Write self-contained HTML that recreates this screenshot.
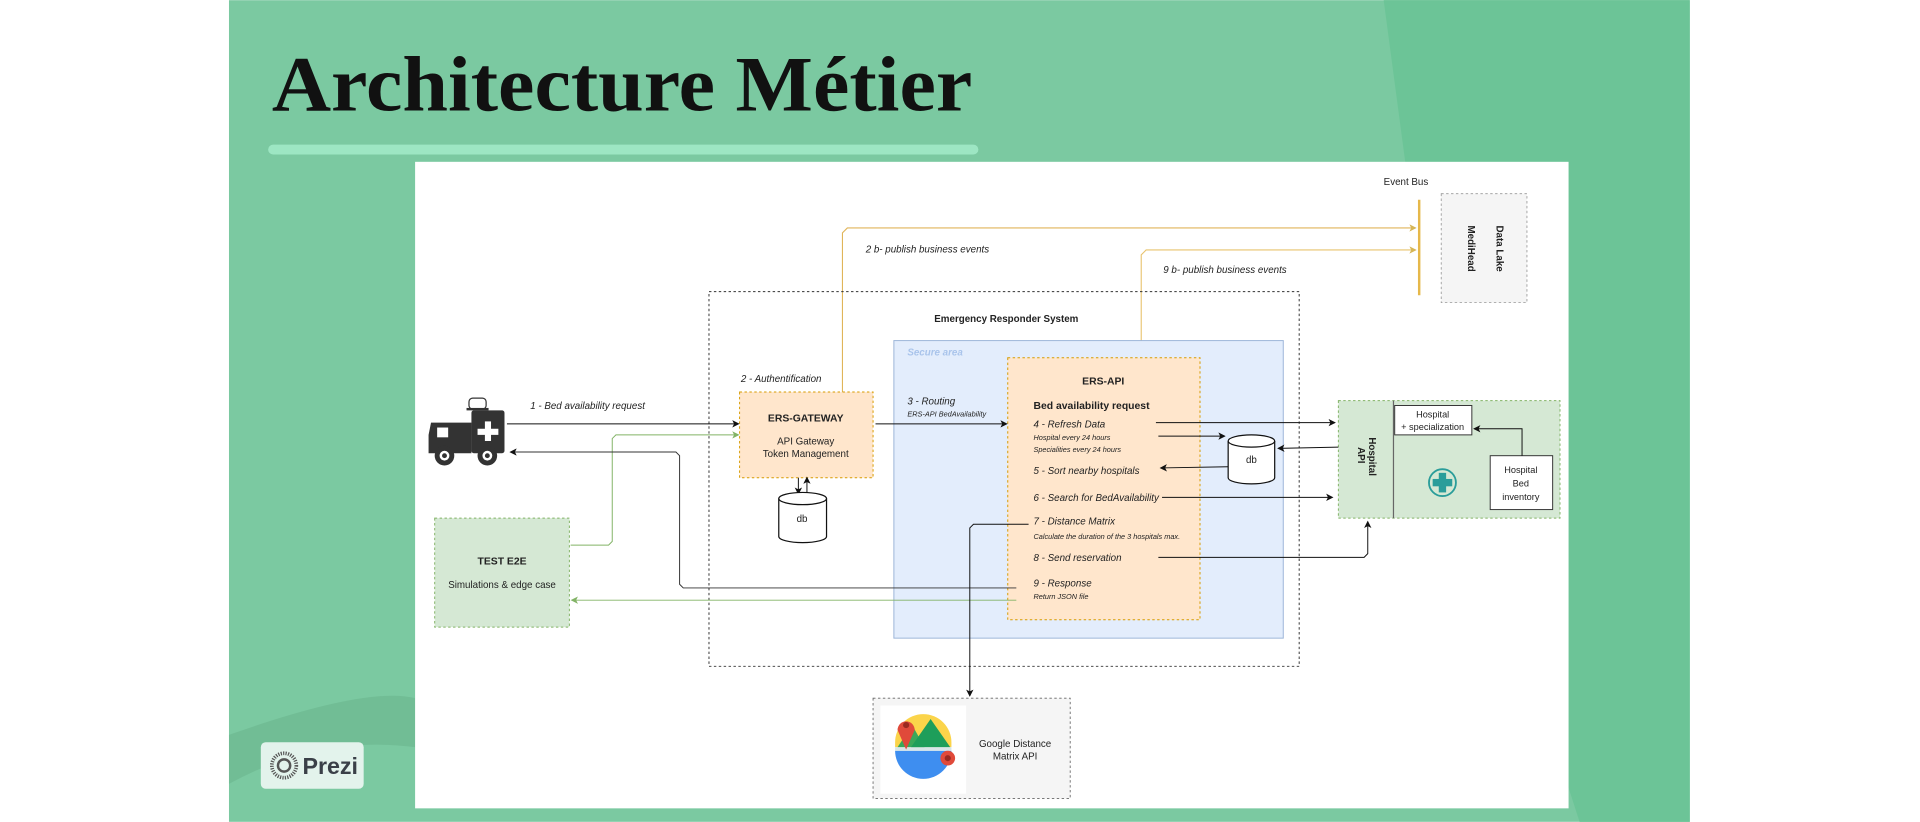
<!DOCTYPE html>
<html><head><meta charset="utf-8"><style>
html,body{margin:0;padding:0;background:#fff;width:1920px;height:822px;overflow:hidden}
svg{display:block}
text{font-family:"Liberation Sans",sans-serif;fill:#222}
.it{font-style:italic}
</style></head><body>
<svg width="1920" height="822" viewBox="0 0 1568 671" xmlns="http://www.w3.org/2000/svg">
<defs>
<marker id="a" markerWidth="6" markerHeight="6" refX="5" refY="3" orient="auto" markerUnits="userSpaceOnUse"><path d="M0,0 L6,3 L0,6 L1.5,3Z" fill="#111"/></marker>
<marker id="ay" markerWidth="6" markerHeight="6" refX="5" refY="3" orient="auto" markerUnits="userSpaceOnUse"><path d="M0,0 L6,3 L0,6 L1.5,3Z" fill="#d6b656"/></marker>
<marker id="ag" markerWidth="6" markerHeight="6" refX="5" refY="3" orient="auto" markerUnits="userSpaceOnUse"><path d="M0,0 L6,3 L0,6 L1.5,3Z" fill="#82b366"/></marker>
</defs>
<rect x="0" y="0" width="1568" height="671" fill="#fff"/>
<rect x="187" y="0" width="1193" height="671" fill="#7bc9a1"/>
<polygon points="1130,0 1380,0 1380,671 1290,671 1170,300" fill="#6cc497"/>
<path d="M187,600 Q300,560 339,570 L339,610 Q260,600 187,640Z" fill="#6ab58e" opacity="0.6"/>
<text x="222" y="90" style="font-family:'Liberation Serif',serif;font-weight:bold;font-size:64px;fill:#111" textLength="572" lengthAdjust="spacingAndGlyphs">Architecture Métier</text>
<rect x="219" y="118" width="580" height="8" rx="4" fill="#9de6c3"/>
<rect x="339" y="132" width="942" height="528" fill="#fff"/>

<!-- event bus -->
<text x="1130" y="151" font-size="8">Event Bus</text>
<line x1="1159" y1="163" x2="1159" y2="241" stroke="#e6b84a" stroke-width="2"/>
<rect x="1177" y="158" width="70" height="89" fill="#f5f5f5" stroke="#999" stroke-dasharray="2,2" stroke-width="0.7"/>
<text transform="translate(1222,184) rotate(90)" font-size="8" font-weight="bold">Data Lake</text>
<text transform="translate(1199,184) rotate(90)" font-size="8" font-weight="bold">MediHead</text>
<polyline points="688,320 688,190 692,186 1156,186" fill="none" stroke="#e0b55a" stroke-width="0.9" marker-end="url(#ay)"/>
<text x="707" y="206" font-size="8" class="it">2 b- publish business events</text>
<polyline points="932,292 932,208 936,204 1156,204" fill="none" stroke="#e8c36e" stroke-width="0.9" marker-end="url(#ay)"/>
<text x="950" y="223" font-size="8" class="it">9 b- publish business events</text>

<!-- ERS -->
<rect x="579" y="238" width="482" height="306" fill="none" stroke="#333" stroke-dasharray="2,2" stroke-width="0.8"/>
<text x="763" y="263" font-size="8" font-weight="bold">Emergency Responder System</text>
<rect x="730" y="278" width="318" height="243" fill="#e3edfc" stroke="#9bb4d8" stroke-width="0.8"/>
<text x="741" y="290" font-size="8" font-weight="bold" class="it" style="fill:#a9c4eb">Secure area</text>
<rect x="823" y="292" width="157" height="214" fill="#ffe6cc" stroke="#d79b00" stroke-dasharray="2,2" stroke-width="0.8"/>
<text x="901" y="314" font-size="8.5" text-anchor="middle" font-weight="bold">ERS-API</text>
<text x="844" y="334" font-size="8.5" font-weight="bold">Bed availability request</text>
<text x="844" y="349" font-size="8" class="it">4 - Refresh Data</text>
<text x="844" y="359" font-size="6" class="it">Hospital every 24 hours</text>
<text x="844" y="369" font-size="6" class="it">Specialities every 24 hours</text>
<text x="844" y="387" font-size="8" class="it">5 - Sort nearby hospitals</text>
<text x="844" y="409" font-size="8" class="it">6 - Search for BedAvailability</text>
<text x="844" y="428" font-size="8" class="it">7 - Distance Matrix</text>
<text x="844" y="440" font-size="6" class="it">Calculate the duration of the 3 hospitals max.</text>
<text x="844" y="458" font-size="8" class="it">8 - Send reservation</text>
<text x="844" y="479" font-size="8" class="it">9 - Response</text>
<text x="844" y="489" font-size="6" class="it">Return JSON file</text>

<!-- gateway -->
<rect x="604" y="320" width="109" height="70" fill="#ffe6cc" stroke="#d79b00" stroke-dasharray="2,2" stroke-width="0.8"/>
<text x="658" y="344" font-size="8.5" text-anchor="middle" font-weight="bold">ERS-GATEWAY</text>
<text x="658" y="363" font-size="8" text-anchor="middle">API Gateway</text>
<text x="658" y="373" font-size="8" text-anchor="middle">Token Management</text>
<text x="605" y="312" font-size="8" class="it">2 - Authentification</text>
<line x1="652" y1="390" x2="652" y2="403" stroke="#111" stroke-width="0.8" marker-end="url(#a)"/>
<line x1="659" y1="403" x2="659" y2="390" stroke="#111" stroke-width="0.8" marker-end="url(#a)"/>
<g fill="#fff" stroke="#111" stroke-width="1">
<path d="M636,407 L636,438 A19.5,5 0 0 0 675,438 L675,407"/>
<ellipse cx="655.5" cy="407" rx="19.5" ry="5"/>
<path d="M1003,360 L1003,390 A19,5 0 0 0 1041,390 L1041,360"/>
<ellipse cx="1022" cy="360" rx="19" ry="5"/>
</g>
<text x="655" y="426" font-size="8" text-anchor="middle">db</text>
<text x="1022" y="378" font-size="8" text-anchor="middle">db</text>

<!-- ambulance -->
<g fill="#333">
<rect x="385" y="335" width="27" height="35" rx="2"/>
<path d="M352,345 L385,345 L385,370 L350,370 L350,355Z"/>
<rect x="357" y="349" width="9" height="8" fill="#fff"/>
<rect x="396" y="344" width="5" height="16" fill="#fff"/><rect x="390" y="350" width="17" height="5" fill="#fff"/>
<circle cx="363" cy="372" r="8"/><circle cx="363" cy="372" r="4" fill="#fff"/><circle cx="363" cy="372" r="2"/>
<circle cx="398" cy="372" r="8"/><circle cx="398" cy="372" r="4" fill="#fff"/><circle cx="398" cy="372" r="2"/>
<rect x="383" y="325" width="14" height="9" rx="3" fill="#fff" stroke="#333"/>
<rect x="381" y="333" width="18" height="2"/>
</g>
<text x="433" y="334" font-size="8" class="it">1 - Bed availability request</text>
<line x1="414" y1="346" x2="603" y2="346" stroke="#111" stroke-width="0.8" marker-end="url(#a)"/>
<polyline points="466,445 497,445 500,442 500,358 503,355 603,355" fill="none" stroke="#82b366" stroke-width="0.8" marker-end="url(#ag)"/>
<polyline points="830,480 558,480 555,477 555,372 552,369 417,369" fill="none" stroke="#333" stroke-width="0.8" marker-end="url(#a)"/>
<line x1="830" y1="490" x2="467" y2="490" stroke="#82b366" stroke-width="0.8" marker-end="url(#ag)"/>
<rect x="355" y="423" width="110" height="89" fill="#d5e8d4" stroke="#82b366" stroke-dasharray="2,2" stroke-width="0.8"/>
<text x="410" y="461" font-size="8.5" text-anchor="middle" font-weight="bold">TEST E2E</text>
<text x="410" y="480" font-size="8" text-anchor="middle">Simulations &amp; edge case</text>
<text x="741" y="330" font-size="8" class="it">3 - Routing</text>
<text x="741" y="340" font-size="6" class="it">ERS-API BedAvailability</text>
<line x1="715" y1="346" x2="822" y2="346" stroke="#111" stroke-width="0.8" marker-end="url(#a)"/>

<!-- hospital api -->
<rect x="1093" y="327" width="181" height="96" fill="#d5e8d4" stroke="#82b366" stroke-dasharray="2,2" stroke-width="0.8"/>
<line x1="1138" y1="327" x2="1138" y2="423" stroke="#666" stroke-width="1"/>
<text transform="translate(1118,357) rotate(90)" font-size="8" font-weight="bold">Hospital</text>
<text transform="translate(1109,365) rotate(90)" font-size="8" font-weight="bold">API</text>
<rect x="1139" y="331" width="63" height="24" fill="#fff" stroke="#333" stroke-width="0.8"/>
<text x="1170" y="341" font-size="7.5" text-anchor="middle">Hospital</text>
<text x="1170" y="351" font-size="7.5" text-anchor="middle">+ specialization</text>
<rect x="1217" y="372" width="51" height="44" fill="#fff" stroke="#333" stroke-width="0.8"/>
<text x="1242" y="386" font-size="7.5" text-anchor="middle">Hospital</text>
<text x="1242" y="397" font-size="7.5" text-anchor="middle">Bed</text>
<text x="1242" y="408" font-size="7.5" text-anchor="middle">inventory</text>
<polyline points="1243,372 1243,350 1204,350" fill="none" stroke="#111" stroke-width="0.8" marker-end="url(#a)"/>
<circle cx="1178" cy="394" r="11" fill="none" stroke="#2a9d9a" stroke-width="1.5"/>
<rect x="1175" y="386" width="6" height="16" fill="#2a9d9a"/><rect x="1170" y="391" width="16" height="6" fill="#2a9d9a"/>

<g stroke="#111" stroke-width="0.8" fill="none">
<line x1="944" y1="345" x2="1090" y2="345" marker-end="url(#a)"/>
<line x1="946" y1="356" x2="1000" y2="356" marker-end="url(#a)"/>
<line x1="1093" y1="365" x2="1044" y2="366" marker-end="url(#a)"/>
<line x1="1003" y1="381" x2="948" y2="382" marker-end="url(#a)"/>
<line x1="949" y1="406" x2="1088" y2="406" marker-end="url(#a)"/>
<polyline points="946,455 1114,455 1117,452 1117,426" marker-end="url(#a)"/>
<polyline points="840,428 795,428 792,431 792,568" marker-end="url(#a)"/>
</g>

<!-- google -->
<rect x="713" y="570" width="161" height="82" fill="#f5f5f5" stroke="#666" stroke-dasharray="2,2" stroke-width="0.7"/>
<rect x="719" y="576" width="70" height="72" fill="#fff"/>
<path d="M731,606 A23,23 0 0 1 777,606 L777,610 L731,610Z" fill="#fbd44a"/>
<path d="M731,613 L777,613 A23,23 0 0 1 731,613Z" fill="#3e8ef0"/>
<rect x="731" y="610" width="46" height="3" fill="#d8e6e8"/>
<path d="M733,610 L745,592 L755,610Z" fill="#3aa85a"/>
<path d="M744,610 L760,587 L776,610Z" fill="#1e9e5a"/>
<path d="M733,596 L740,612 L747,596 A7,7 0 1 0 733,596Z" fill="#e04a3a"/>
<circle cx="740" cy="592" r="2.5" fill="#9a2a20"/>
<circle cx="774" cy="619" r="6" fill="#e04a3a"/><circle cx="774" cy="619" r="2.5" fill="#9a2a20"/>
<text x="829" y="610" font-size="8" text-anchor="middle">Google Distance</text>
<text x="829" y="620" font-size="8" text-anchor="middle">Matrix API</text>

<!-- prezi -->
<rect x="213" y="606" width="84" height="38" rx="4" fill="#e3f3ec"/>
<circle cx="232" cy="625" r="10" fill="none" stroke="#555" stroke-width="3" stroke-dasharray="1,1"/>
<circle cx="232" cy="625" r="5" fill="none" stroke="#555" stroke-width="2"/>
<text x="247" y="632" font-size="19" font-weight="bold" style="fill:#3a4048">Prezi</text>
</svg>
</body></html>
